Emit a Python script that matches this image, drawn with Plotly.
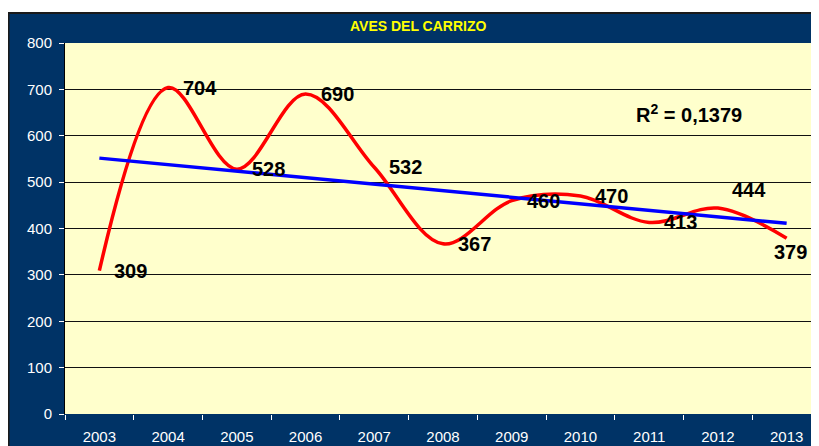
import numpy as np
import plotly.graph_objects as go

# data
years = ["2003", "2004", "2005", "2006", "2007", "2008", "2009", "2010", "2011", "2012", "2013"]
aves = [309, 704, 528, 690, 532, 367, 460, 470, 413, 444, 379]
r2_text = "R<sup>2</sup> = 0,1379"
chart_title = "AVES DEL CARRIZO"
y_ticks = [0, 100, 200, 300, 400, 500, 600, 700, 800]

NAVY = "#003366"
PLOT_BG = "#FFFFCC"
FONT = "Liberation Sans, Arial, sans-serif"

# linear trend like Excel's trendline
xi = np.arange(len(aves))
slope, icept = np.polyfit(xi, aves, 1)
trend = slope * xi + icept

fig = go.Figure()
fig.add_trace(go.Scatter(
    x=years, y=aves, mode="lines",
    line=dict(color="#FF0000", width=3.5, shape="spline", smoothing=1.0),
    showlegend=False, hoverinfo="skip"
))
fig.add_trace(go.Scatter(
    x=years, y=trend, mode="lines",
    line=dict(color="#0000FF", width=3.5),
    showlegend=False, hoverinfo="skip"
))

# label offsets (px) where Excel moved a label away from its default spot
nudge = {"2012": (12, 18), "2013": (-15, -14)}
for i, (yr, v) in enumerate(zip(years, aves)):
    dx, dy = nudge.get(yr, (13, 0))
    fig.add_annotation(
        x=i, y=v, text="<b>%d</b>" % v, showarrow=False,
        xanchor="left", yanchor="middle", xshift=dx, yshift=dy,
        font=dict(family=FONT, size=20, color="black")
    )

fig.add_annotation(
    x=0.7526, y=0.8113, xref="paper", yref="paper", text="<b>" + r2_text + "</b>",
    showarrow=False, xanchor="left", yanchor="middle",
    font=dict(family=FONT, size=20, color="black")
)
fig.add_annotation(
    x=0.4663, y=1.0458, xref="paper", yref="paper", text="<b>" + chart_title + "</b>",
    showarrow=False, xanchor="center", yanchor="middle",
    font=dict(family="Liberation Sans Narrow, Arial Narrow, " + FONT, size=14, color="#FFFF00")
)

# white page strip above the navy chart box, and the box border
fig.add_shape(type="rect", xref="paper", yref="paper", x0=-0.2, x1=1.2, y0=1.0809, y1=1.3,
              fillcolor="white", line=dict(width=0), layer="below")
fig.add_shape(type="rect", xref="paper", yref="paper", x0=-0.0747, x1=1.1, y0=-0.2, y1=1.0809,
              fillcolor="rgba(0,0,0,0)", line=dict(color="#1a1a1a", width=2), layer="below")

fig.update_layout(
    width=819, height=446,
    margin=dict(l=57, r=6, t=35, b=40),
    paper_bgcolor=NAVY, plot_bgcolor=PLOT_BG,
    font=dict(family=FONT, color="white", size=15),
    xaxis=dict(
        type="category", range=[-0.5, 10.5], tickson="boundaries",
        showgrid=False, zeroline=False, showline=False,
        ticks="outside", ticklen=5, tickcolor="white", tickwidth=1, ticklabelstandoff=12,
        tickfont=dict(family=FONT, size=15, color="white")
    ),
    yaxis=dict(
        range=[0, 800], tickvals=y_ticks, showgrid=True, gridcolor="#111111", gridwidth=1,
        zeroline=False, showline=True, linecolor="#000000", linewidth=1,
        ticks="outside", ticklen=5, tickcolor="white", tickwidth=1, ticklabelstandoff=4,
        tickfont=dict(family=FONT, size=15, color="white")
    ),
)

fig.write_html("out.html")
